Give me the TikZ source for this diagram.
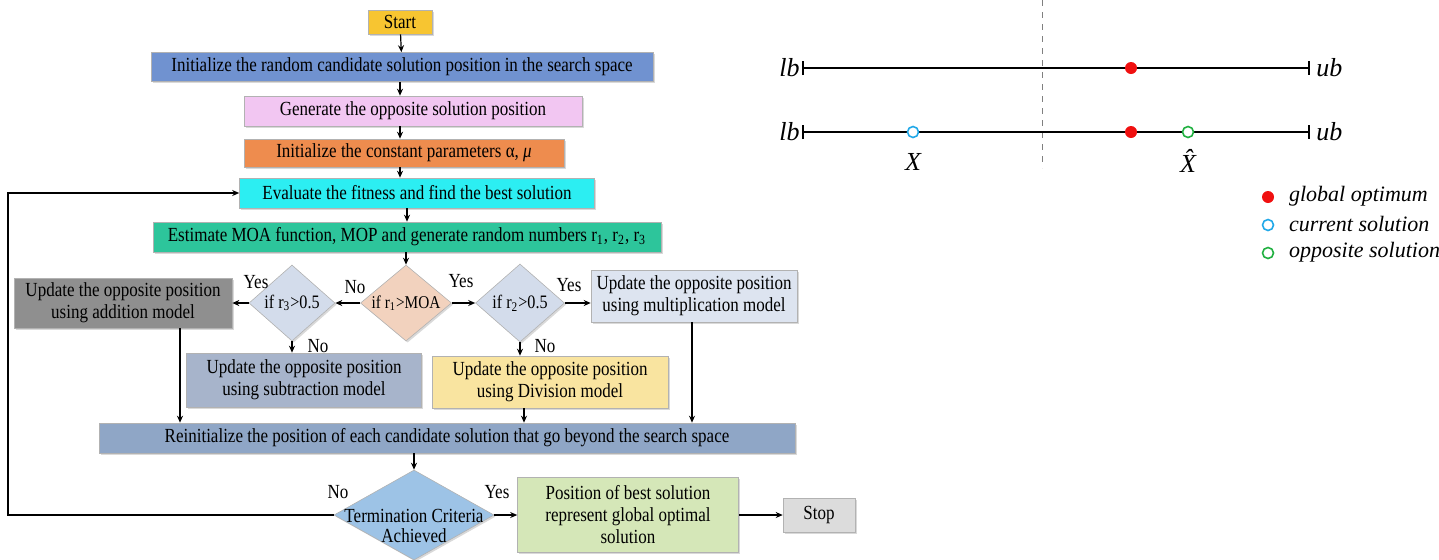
\documentclass[tikz,border=0pt]{standalone}
\usepackage{fontspec}
\setmainfont{Liberation Serif}[FakeStretch=0.85]
\newfontfamily\legendfont{Liberation Serif}
\usepackage{tikz}
\usetikzlibrary{shapes.geometric, arrows.meta, shadows}
\definecolor{startcol}{HTML}{F7C531}
\definecolor{initcol}{HTML}{7092D0}
\definecolor{gencol}{HTML}{F2C6F2}
\definecolor{paramcol}{HTML}{EE8C4E}
\definecolor{evalcol}{HTML}{2CEEF2}
\definecolor{estcol}{HTML}{2DC59B}
\definecolor{moacol}{HTML}{F2D2BE}
\definecolor{rcol}{HTML}{D3DCEB}
\definecolor{addcol}{HTML}{8F8F8F}
\definecolor{mulcol}{HTML}{DDE4F0}
\definecolor{subcol}{HTML}{A7B4CB}
\definecolor{divcol}{HTML}{F9E4A0}
\definecolor{reinitcol}{HTML}{8FA6C6}
\definecolor{termcol}{HTML}{9DC3E6}
\definecolor{poscol}{HTML}{D5E7B8}
\definecolor{stopcol}{HTML}{DCDCDC}
\definecolor{optred}{HTML}{F01010}
\definecolor{curblue}{HTML}{20A8E8}
\definecolor{oppgreen}{HTML}{20B040}
\newcommand\flowfont{\fontsize{10}{11}\selectfont}
\tikzset{
  procbox/.style={rectangle, draw=black!30, line width=0.3pt, inner sep=1pt, align=center,
    font=\flowfont, drop shadow={opacity=0.3, shadow xshift=0.8pt, shadow yshift=-0.8pt}},
  decision/.style={diamond, draw=black!30, line width=0.3pt, inner sep=0pt,
    label distance=0pt, drop shadow={opacity=0.3, shadow xshift=0.8pt, shadow yshift=-0.8pt}},
  arr/.style={-{Stealth[length=3.5pt, width=3pt]}, line width=0.6pt},
  answer/.style={font=\flowfont},
  numline/.style={{Bar[width=7pt]}-{Bar[width=7pt]}, line width=1pt},
  gdot/.style={circle, fill=optred, inner sep=0pt, minimum size=6pt},
  cdot/.style={circle, draw=curblue, fill=white, line width=0.8pt, inner sep=0pt, minimum size=5.5pt},
  odot/.style={circle, draw=oppgreen, fill=white, line width=0.8pt, inner sep=0pt, minimum size=5.5pt},
  bound/.style={font=\fontsize{13}{14}\legendfont\itshape},
  legtext/.style={font=\fontsize{11}{12}\legendfont\itshape, anchor=west},
}
\begin{document}
\begin{tikzpicture}[x=0.5pt, y=-0.5pt]
\useasboundingbox (0,0) rectangle (1439,559);

% Flowchart
\node[procbox, fill=startcol, minimum width=32pt, minimum height=12pt] (start) at (400,22) {Start};
\node[procbox, fill=initcol, minimum width=251pt, minimum height=14.5pt] (init) at (402,67) {Initialize the random candidate solution position in the search space};
\node[procbox, fill=gencol, minimum width=169pt, minimum height=15pt] (gen) at (413,111) {Generate the opposite solution position};
\node[procbox, fill=paramcol, minimum width=160pt, minimum height=14pt] (param) at (404,153) {Initialize the constant parameters α, \textit{μ}};
\node[procbox, fill=evalcol, minimum width=177.5pt, minimum height=15pt] (eval) at (417,193) {Evaluate the fitness and find the best solution};
\node[procbox, fill=estcol, minimum width=254pt, minimum height=15pt] (est) at (407,237) {Estimate MOA function, MOP and generate random numbers r\textsubscript{1}, r\textsubscript{2}, r\textsubscript{3}};

% Decisions
\node[decision, fill=moacol, minimum width=45.5pt, minimum height=38pt, label={[font=\fontsize{9}{10}\selectfont]center:if r\textsubscript{1}>MOA}] (moa) at (406,303) {};
\node[decision, fill=rcol, minimum width=43pt, minimum height=38pt, label={[font=\fontsize{9.5}{10}\selectfont]center:if r\textsubscript{3}>0.5}] (rthree) at (292,303) {};
\node[decision, fill=rcol, minimum width=44.5pt, minimum height=39pt, label={[font=\fontsize{9.5}{10}\selectfont]center:if r\textsubscript{2}>0.5}] (rtwo) at (520,303) {};

% Update models
\node[procbox, fill=addcol, minimum width=109pt, minimum height=25pt] (add) at (123,303) {Update the opposite position\\using addition model};
\node[procbox, fill=mulcol, minimum width=103pt, minimum height=26pt] (mul) at (694,296) {Update the opposite position\\using multiplication model};
\node[procbox, fill=subcol, minimum width=117.5pt, minimum height=27pt] (sub) at (304,380) {Update the opposite position\\using subtraction model};
\node[procbox, fill=divcol, minimum width=118pt, minimum height=26pt] (div) at (550,382) {Update the opposite position\\using Division model};

\node[procbox, fill=reinitcol, minimum width=348pt, minimum height=15pt] (reinit) at (447,438) {Reinitialize the position of each candidate solution that go beyond the search space};
\node[decision, fill=termcol, minimum width=80pt, minimum height=45pt, label={[font=\flowfont, yshift=-6.5pt]center:\begin{tabular}{@{}c@{}}Termination Criteria\\[-1pt]Achieved\end{tabular}}] (term) at (414,515) {};
\node[procbox, fill=poscol, minimum width=110.5pt, minimum height=37.5pt] (pos) at (628,515) {Position of best solution\\represent global optimal\\solution};
\node[procbox, fill=stopcol, minimum width=36pt, minimum height=17pt] (stop) at (819,515) {Stop};

% Main arrows
\draw[arr] (start) -- (init);
\draw[arr] (init.south -| start) -- (gen.north -| start);
\draw[arr] (gen.south -| start) -- (param.north -| start);
\draw[arr] (param.south -| start) -- (eval.north -| start);
\draw[arr] (eval.south -| est) -- (est.north);
\draw[arr] (est.south -| moa) -- (moa.north);
\draw[arr] (moa.west) -- (rthree.east);
\draw[arr] (moa.east) -- (rtwo.west);
\draw[arr] (rthree.west) -- (rthree.west -| add.east);
\draw[arr] (rtwo.east) -- (rtwo.east -| mul.west);
\draw[arr] (rthree.south) -- (rthree.south |- sub.north);
\draw[arr] (rtwo.south) -- (rtwo.south |- div.north);
\draw[arr] ([xshift=28.5pt]add.south) -- ([xshift=28.5pt]add.south |- reinit.north);
\draw[arr] ([xshift=-13pt]div.south) -- ([xshift=-13pt]div.south |- reinit.north);
\draw[arr] ([xshift=-1pt]mul.south) -- ([xshift=-1pt]mul.south |- reinit.north);
\draw[arr] (reinit.south -| term) -- (term.north);
\draw[arr] (term.east) -- (pos.west);
\draw[arr] (pos.east) -- (stop.west);

% Loop back
\coordinate (back) at (8,0);
\draw[arr] (term.west) -- (term.west -| back) |- (eval.west);

% Answers
\node[answer] (no1) at (355,287) {No};
\node[answer] (yes1) at (461,281) {Yes};
\node[answer] (yes3) at (256,282) {Yes};
\node[answer] (no3) at (318,346) {No};
\node[answer] (yes2) at (569,285) {Yes};
\node[answer] (no2) at (545,346) {No};
\node[answer] (no4) at (338,492) {No};
\node[answer] (yes4) at (497,492) {Yes};

% Search space
\draw[gray, dashed, line width=0.5pt] (1042,0) -- (1042,168);
\coordinate (lbone) at (802,68);
\coordinate (ubone) at (1310,68);
\coordinate (lbtwo) at (802,132);
\coordinate (ubtwo) at (1310,132);
\draw[numline] (lbone) -- (ubone);
\draw[numline] (lbtwo) -- (ubtwo);
\node[bound, anchor=east, inner sep=1pt] at (lbone) {lb};
\node[bound, anchor=west, inner sep=3pt] at (ubone) {ub};
\node[bound, anchor=east, inner sep=1pt] at (lbtwo) {lb};
\node[bound, anchor=west, inner sep=3pt] at (ubtwo) {ub};
\node[gdot] (gone) at (1131,68) {};
\node[gdot] (gtwo) at (1131,132) {};
\node[cdot] (cur) at (913,132) {};
\node[odot] (opp) at (1188,132) {};
\node[bound] (curlab) at (913,162) {X};
\node[bound, inner sep=1pt] (opplab) at (1188,161) {\^{X}};

% Legend
\node[gdot] (lgg) at (1268,197) {};
\node[cdot] (lgc) at (1268,225) {};
\node[odot] (lgo) at (1268,253) {};
\node[legtext] at (1282,196) {global optimum};
\node[legtext] at (1282,224) {current solution};
\node[legtext] at (1282,252) {opposite solution};
\end{tikzpicture}
\end{document}
